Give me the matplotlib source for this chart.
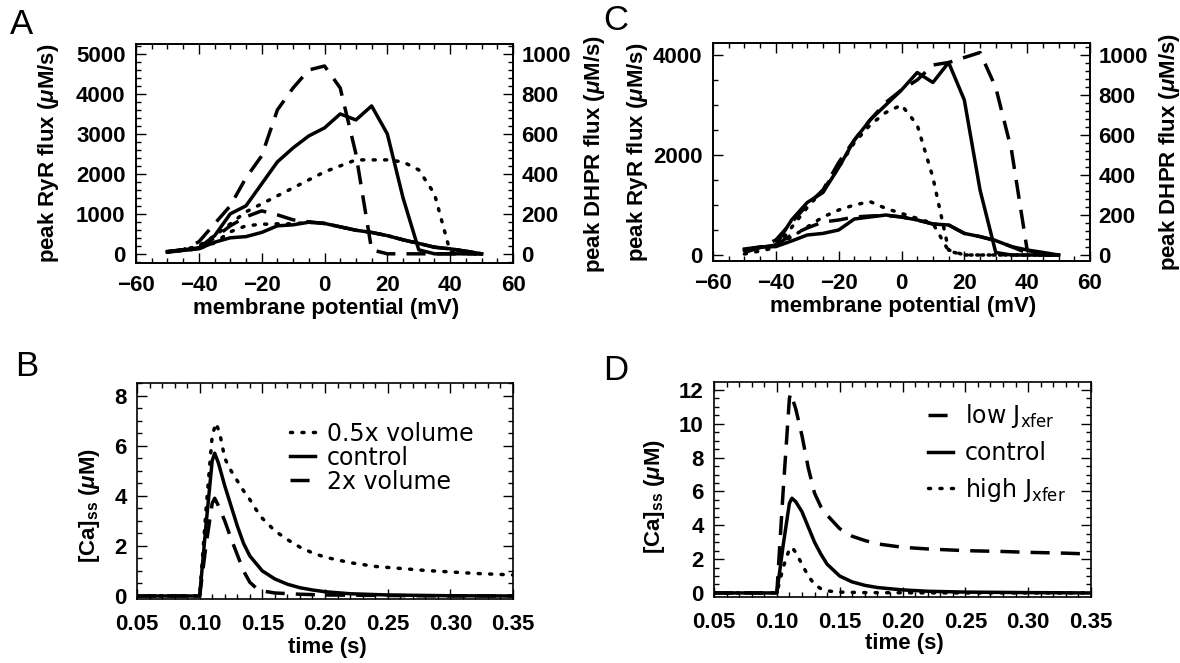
import matplotlib
matplotlib.use("Agg")
import matplotlib.pyplot as plt
from matplotlib.ticker import MultipleLocator
import numpy as np

plt.rcParams['font.family'] = ['Liberation Sans', 'DejaVu Sans']
plt.rcParams['font.weight'] = 'bold'
plt.rcParams['axes.labelweight'] = 'bold'
plt.rcParams['mathtext.fontset'] = 'custom'
plt.rcParams['mathtext.rm'] = 'Liberation Sans:bold'
plt.rcParams['mathtext.it'] = 'Liberation Sans:italic:bold'
plt.rcParams['axes.linewidth'] = 1.2

# ---- panel A / C: peak fluxes vs membrane potential ----
volt = [-50, -45, -40, -35, -30, -25, -20, -15, -10, -5, 0, 5, 10, 15, 20, 25, 30, 35, 40, 45, 50]

# A: RyR flux (left axis, uM/s)
a_ryr_ctrl = [60, 100, 150, 450, 1000, 1200, 1750, 2300, 2650, 2950, 3150, 3500, 3350, 3700, 3000, 1400, 100, 0, 0, 0, 0]
a_ryr_2x   = [50, 100, 300, 750, 1200, 1900, 2450, 3600, 4150, 4600, 4700, 4150, 2500, 100, 0, 0, 0, 0, 0, 0, 0]
a_ryr_half = [50, 100, 200, 450, 750, 1050, 1250, 1450, 1650, 1850, 2050, 2200, 2350, 2350, 2350, 2300, 2100, 1500, 50, 0, 0]
# A: DHPR flux (right axis, uM/s)
a_dhpr_ctrl = [8, 17, 25, 58, 80, 86, 107, 140, 145, 158, 152, 135, 118, 107, 91, 70, 52, 33, 25, 13, 0]
a_dhpr_2x   = [10, 20, 30, 80, 140, 185, 215, 195, 170, 160, 152, 135, 118, 107, 91, 70, 52, 33, 25, 13, 0]
a_dhpr_half = [8, 17, 25, 55, 110, 140, 148, 150, 150, 158, 152, 135, 118, 107, 91, 70, 52, 33, 25, 13, 0]

# C: RyR flux (left axis)
c_ryr_ctrl = [100, 150, 200, 700, 1050, 1250, 1750, 2300, 2700, 3000, 3300, 3650, 3450, 3850, 3100, 1300, 50, 0, 0, 0, 0]
c_ryr_low  = [50, 150, 300, 650, 1000, 1300, 1850, 2300, 2700, 3050, 3300, 3500, 3800, 3850, 3950, 4050, 3350, 2100, 100, 0, 0]
c_ryr_high = [20, 80, 150, 550, 950, 1300, 1750, 2250, 2600, 2850, 3000, 2600, 1550, 100, 0, 0, 0, 0, 0, 0, 0]
# C: DHPR flux (right axis)
c_dhpr_ctrl = [30, 40, 42, 70, 100, 108, 125, 180, 190, 200, 190, 175, 155, 150, 108, 92, 72, 42, 25, 13, 0]
c_dhpr_low  = [25, 40, 50, 100, 135, 165, 175, 190, 195, 198, 190, 175, 155, 150, 108, 92, 72, 42, 10, 0, 0]
c_dhpr_high = [20, 35, 50, 90, 140, 190, 225, 250, 267, 233, 208, 183, 158, 20, 0, 0, 0, 0, 0, 0, 0]

# ---- panel B: [Ca]ss transients, volume changes ----
b_t_half = [0.05, 0.100, 0.105, 0.110, 0.113, 0.116, 0.12, 0.125, 0.13, 0.135, 0.14, 0.145, 0.15, 0.16, 0.17,
            0.18, 0.19, 0.20, 0.22, 0.24, 0.26, 0.28, 0.30, 0.32, 0.35]
b_ca_half = [0, 0, 3.4, 6.4, 6.9, 6.5, 5.5, 5.0, 4.6, 4.2, 3.85, 3.45, 3.1, 2.6, 2.25,
             1.95, 1.72, 1.55, 1.33, 1.18, 1.1, 1.02, 0.96, 0.9, 0.84]
b_t_ctrl = [0.05, 0.100, 0.105, 0.110, 0.112, 0.115, 0.12, 0.125, 0.13, 0.135, 0.14, 0.15, 0.16, 0.17,
            0.18, 0.19, 0.20, 0.22, 0.25, 0.30, 0.35]
b_ca_ctrl = [0, 0, 2.8, 5.4, 5.7, 5.3, 4.4, 3.6, 2.8, 2.1, 1.6, 1.0, 0.68, 0.47,
             0.33, 0.24, 0.17, 0.09, 0.04, 0.01, 0.0]
b_t_2x = [0.05, 0.100, 0.105, 0.110, 0.112, 0.115, 0.12, 0.125, 0.13, 0.135, 0.14, 0.145, 0.15, 0.16,
          0.18, 0.20, 0.25, 0.30, 0.35]
b_ca_2x = [0, 0, 2.0, 3.7, 3.9, 3.6, 3.0, 2.3, 1.65, 1.0, 0.55, 0.32, 0.2, 0.12,
           0.07, 0.04, 0.02, 0.0, 0.0]
b_labels = ["0.5x volume", "control", "2x volume"]

# ---- panel D: [Ca]ss transients, Jxfer changes ----
d_t_low = [0.05, 0.100, 0.105, 0.110, 0.111, 0.115, 0.12, 0.125, 0.13, 0.135, 0.14, 0.15, 0.16, 0.17,
           0.18, 0.20, 0.22, 0.25, 0.28, 0.30, 0.33, 0.35]
d_ca_low = [0, 0, 6.0, 11.5, 11.8, 10.9, 9.3, 7.4, 5.9, 5.1, 4.6, 3.8, 3.35, 3.1,
            2.9, 2.7, 2.6, 2.5, 2.45, 2.4, 2.35, 2.3]
d_t_ctrl = [0.05, 0.100, 0.105, 0.110, 0.112, 0.115, 0.12, 0.125, 0.13, 0.135, 0.14, 0.15, 0.16, 0.17,
            0.18, 0.20, 0.22, 0.25, 0.30, 0.35]
d_ca_ctrl = [0, 0, 2.8, 5.3, 5.6, 5.4, 4.8, 3.9, 3.0, 2.3, 1.7, 1.0, 0.65, 0.45,
             0.32, 0.18, 0.1, 0.05, 0.02, 0.0]
d_t_high = [0.05, 0.100, 0.105, 0.110, 0.112, 0.115, 0.12, 0.125, 0.13, 0.135, 0.14, 0.15, 0.17, 0.20,
            0.25, 0.30, 0.35]
d_ca_high = [0, 0, 1.5, 2.6, 2.7, 2.4, 1.7, 1.0, 0.5, 0.25, 0.12, 0.05, 0.02, 0.01,
             0, 0, 0]
d_labels = [r"low J$\mathregular{_{xfer}}$", "control", r"high J$\mathregular{_{xfer}}$"]

# line styles
SOLID = dict(color='k', lw=2.5, ls='-')
DASH = dict(color='k', lw=2.5, ls=(0, (5.5, 3.2)))
DOT = dict(color='k', lw=2.5, ls=(0, (0.6, 2.7)), dash_capstyle='round')

W, H = 1180, 663
fig = plt.figure(figsize=(W / 100, H / 100), dpi=100)


def add_ax(left, top, right, bottom):
    return fig.add_axes([left / W, 1 - bottom / H, (right - left) / W, (bottom - top) / H])


def style(ax, right=True, xpad=9):
    ax.tick_params(which='both', direction='in', top=True, right=right, width=1, labelsize=16)
    ax.tick_params(which='major', length=7)
    ax.tick_params(which='minor', length=3.5)
    ax.tick_params(axis='x', pad=xpad)
    ax.tick_params(axis='y', pad=7.5)


def style_right(ax2):
    ax2.tick_params(which='both', direction='in', width=1, labelsize=16, pad=6)
    ax2.tick_params(which='major', length=7)
    ax2.tick_params(which='minor', length=3.5)


leg_prop = {'family': 'DejaVu Sans', 'weight': 'normal', 'size': 17}

# ----- A -----
axA = add_ax(136, 44, 513, 263)
axA.plot(volt, a_ryr_ctrl, **SOLID)
axA.plot(volt, a_ryr_2x, **DASH)
axA.plot(volt, a_ryr_half, **DOT)
axA.set_xlim(-60, 60)
axA.set_ylim(-230, 5250)
axA.xaxis.set_major_locator(MultipleLocator(20))
axA.xaxis.set_minor_locator(MultipleLocator(5))
axA.yaxis.set_major_locator(MultipleLocator(1000))
axA.yaxis.set_minor_locator(MultipleLocator(200))
style(axA, right=False, xpad=9)
axA.set_xlabel("membrane potential (mV)", fontsize=16)
axA.set_ylabel(r"peak RyR flux ($\mu$M/s)", fontsize=16)
axA.xaxis.set_label_coords(0.505, -0.16)
axA.yaxis.set_label_coords(-0.199, 0.5)
axA2 = axA.twinx()
axA2.plot(volt, a_dhpr_ctrl, **SOLID)
axA2.plot(volt, a_dhpr_2x, **DASH)
axA2.plot(volt, a_dhpr_half, **DOT)
axA2.set_ylim(-46, 1050)
axA2.yaxis.set_major_locator(MultipleLocator(200))
axA2.yaxis.set_minor_locator(MultipleLocator(40))
style_right(axA2)
axA2.set_ylabel(r"peak DHPR flux ($\mu$M/s)", fontsize=16)
axA2.yaxis.set_label_coords(1.183, 0.5)

# ----- C -----
axC = add_ax(713, 43, 1090, 261)
axC.plot(volt, c_ryr_ctrl, **SOLID)
axC.plot(volt, c_ryr_low, **DASH)
axC.plot(volt, c_ryr_high, **DOT)
axC.set_xlim(-60, 60)
axC.set_ylim(-120, 4240)
axC.xaxis.set_major_locator(MultipleLocator(20))
axC.xaxis.set_minor_locator(MultipleLocator(5))
axC.yaxis.set_major_locator(MultipleLocator(2000))
axC.yaxis.set_minor_locator(MultipleLocator(500))
style(axC, right=False, xpad=9)
axC.set_xlabel("membrane potential (mV)", fontsize=16)
axC.set_ylabel(r"peak RyR flux ($\mu$M/s)", fontsize=16)
axC.xaxis.set_label_coords(0.505, -0.16)
axC.yaxis.set_label_coords(-0.167, 0.5)
axC2 = axC.twinx()
axC2.plot(volt, c_dhpr_ctrl, **SOLID)
axC2.plot(volt, c_dhpr_low, **DASH)
axC2.plot(volt, c_dhpr_high, **DOT)
axC2.set_ylim(-30, 1060)
axC2.yaxis.set_major_locator(MultipleLocator(200))
axC2.yaxis.set_minor_locator(MultipleLocator(40))
style_right(axC2)
axC2.set_ylabel(r"peak DHPR flux ($\mu$M/s)", fontsize=16)
axC2.yaxis.set_label_coords(1.178, 0.5)

# ----- B -----
axB = add_ax(137, 383, 513, 599)
lb1, = axB.plot(b_t_half, b_ca_half, **DOT)
lb2, = axB.plot(b_t_ctrl, b_ca_ctrl, **SOLID)
lb3, = axB.plot(b_t_2x, b_ca_2x, **DASH)
axB.set_xlim(0.05, 0.35)
axB.set_ylim(-0.12, 8.5)
axB.xaxis.set_major_locator(MultipleLocator(0.05))
axB.xaxis.set_minor_locator(MultipleLocator(0.01))
axB.yaxis.set_major_locator(MultipleLocator(2))
axB.yaxis.set_minor_locator(MultipleLocator(0.5))
axB.xaxis.set_major_formatter(lambda v, p: f"{v:.2f}")
style(axB, xpad=10.5)
axB.set_xlabel("time (s)", fontsize=16)
axB.set_ylabel(r"[Ca]$\mathregular{_{ss}}$ ($\mu$M)", fontsize=16)
axB.xaxis.set_label_coords(0.505, -0.176)
axB.yaxis.set_label_coords(-0.093, 0.435)
axB.legend([lb1, lb2, lb3], b_labels, loc='center left', bbox_to_anchor=(0.407, 0.655),
           frameon=False, borderpad=0, borderaxespad=0, handlelength=1.06,
           handletextpad=0.5, labelspacing=0.0, prop=leg_prop)

# ----- D -----
axD = add_ax(714, 382, 1091, 597)
ld1, = axD.plot(d_t_low, d_ca_low, **DASH)
ld2, = axD.plot(d_t_ctrl, d_ca_ctrl, **SOLID)
ld3, = axD.plot(d_t_high, d_ca_high, **DOT)
axD.set_xlim(0.05, 0.35)
axD.set_ylim(-0.24, 12.47)
axD.xaxis.set_major_locator(MultipleLocator(0.05))
axD.xaxis.set_minor_locator(MultipleLocator(0.01))
axD.yaxis.set_major_locator(MultipleLocator(2))
axD.yaxis.set_minor_locator(MultipleLocator(0.5))
axD.xaxis.set_major_formatter(lambda v, p: f"{v:.2f}")
style(axD, xpad=10.5)
axD.set_xlabel("time (s)", fontsize=16)
axD.set_ylabel(r"[Ca]$\mathregular{_{ss}}$ ($\mu$M)", fontsize=16)
axD.xaxis.set_label_coords(0.505, -0.167)
axD.yaxis.set_label_coords(-0.125, 0.47)
axD.legend([ld1, ld2, ld3], d_labels, loc='center left', bbox_to_anchor=(0.568, 0.67),
           frameon=False, borderpad=0, borderaxespad=0, handlelength=1.06,
           handletextpad=0.5, labelspacing=0.45, prop=leg_prop)

# panel letters
for letter, (px, py) in zip("ABCD", [(22, 25), (27, 366), (616, 20), (616, 370)]):
    fig.text(px / W, 1 - py / H, letter, fontsize=25, fontweight='normal', ha='center', va='center')

fig.savefig("out.png", dpi=100)
